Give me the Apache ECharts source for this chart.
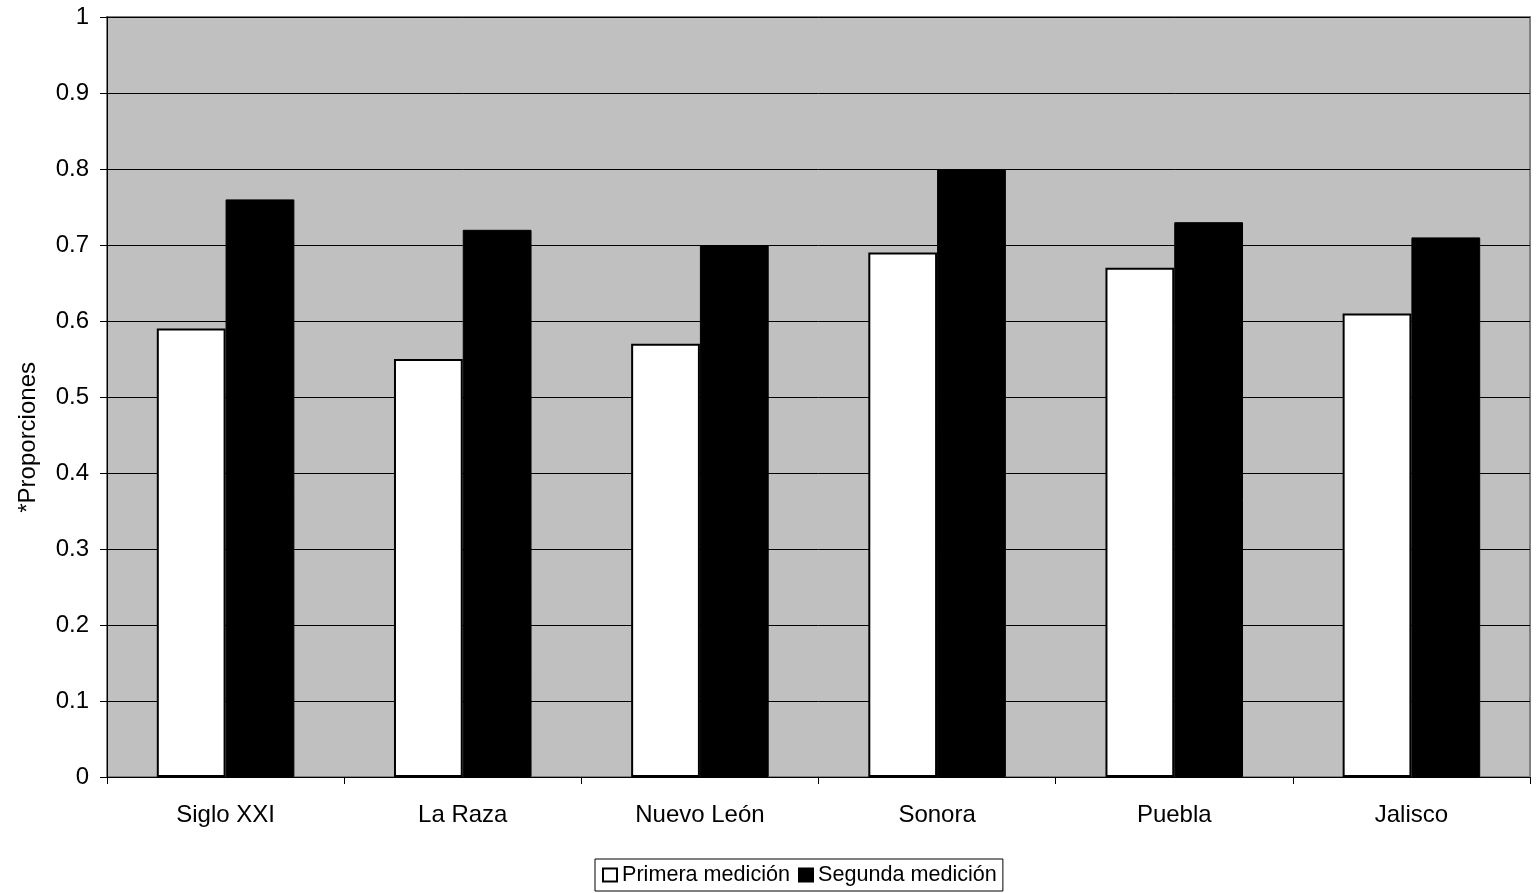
<!DOCTYPE html>
<html><head><meta charset="utf-8">
<script src="https://cdn.jsdelivr.net/npm/echarts@6/dist/echarts.min.js"></script>
<style>html,body{margin:0;padding:0;background:#fff}#c{width:1536px;height:893px}</style>
</head><body><div id="c"></div>
<script>
const categories = ['Siglo XXI','La Raza','Nuevo León','Sonora','Puebla','Jalisco'];
const primera = [0.59,0.55,0.57,0.69,0.67,0.61];
const segunda = [0.76,0.72,0.70,0.80,0.73,0.71];
const seriesNames = ['Primera medición','Segunda medición'];
const yAxisTitle = '*Proporciones';

const chart = echarts.init(document.getElementById('c'));
const font = 'Liberation Sans, Arial, sans-serif';
chart.setOption({
  animation:false,
  textStyle:{fontFamily:font},
  grid:{left:107,right:6,top:17,bottom:116,show:true,backgroundColor:'#c0c0c0',borderColor:'#808080',borderWidth:2},
  legend:{
    top:859,left:595,
    data:seriesNames,
    icon:'rect',
    itemWidth:14,itemHeight:13,itemGap:8,
    padding:[5,6,5,7],
    borderColor:'#000',borderWidth:1,
    textStyle:{fontSize:21.6,color:'#000',fontFamily:font}
  },
  xAxis:{
    type:'category',data:categories,
    axisLine:{lineStyle:{color:'#000',width:1}},
    axisTick:{show:true,length:7,lineStyle:{color:'#000'}},
    axisLabel:{fontSize:24,color:'#000',margin:26,fontFamily:font}
  },
  yAxis:{
    type:'value',min:0,max:1,interval:0.1,
    axisLine:{show:true,lineStyle:{color:'#000',width:1}},
    axisTick:{show:true,length:7,inside:false,lineStyle:{color:'#000'}},
    splitLine:{lineStyle:{color:'#000',width:1}},
    axisLabel:{fontSize:24,color:'#000',margin:18,fontFamily:font,
      formatter:v=>String(Math.round(v*10)/10)}
  },
  graphic:[{type:'text',left:16,top:362,rotation:Math.PI/2,
    style:{text:yAxisTitle,fontSize:24,fill:'#000',fontFamily:font}}],
  series:[
    {name:seriesNames[0],type:'bar',data:primera,barGap:'0%',barCategoryGap:'42%',
      itemStyle:{color:'#fff',borderColor:'#000',borderWidth:2}},
    {name:seriesNames[1],type:'bar',data:segunda,
      itemStyle:{color:'#000',borderColor:'#000',borderWidth:1}}
  ]
});
</script></body></html>
